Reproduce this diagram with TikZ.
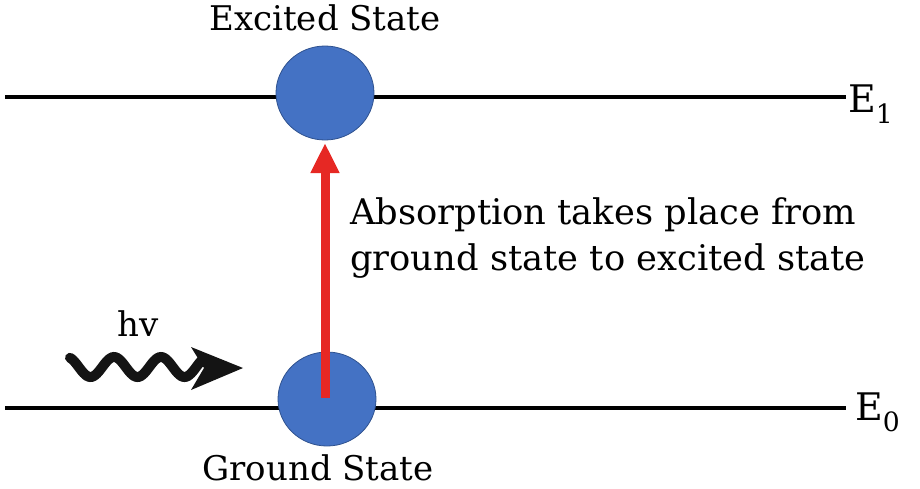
\documentclass[tikz,border=0pt]{standalone}
\usepackage{fontspec}
\setmainfont{DejaVu Serif}
\usetikzlibrary{arrows.meta,shapes.geometric}
\definecolor{stblue}{RGB}{68,114,196}
\definecolor{stedge}{RGB}{47,82,143}
\definecolor{arrred}{RGB}{230,40,36}
\definecolor{wavek}{RGB}{20,20,20}
\begin{document}
\begin{tikzpicture}[x=1pt,y=-1pt,
  level/.style={line width=4pt,black},
  state/.style={ellipse,draw=stedge,line width=0.8pt,fill=stblue,minimum width=98pt,minimum height=94pt,inner sep=0pt},
  lbl/.style={font=\fontsize{34}{40}\selectfont,inner sep=0pt},
  body/.style={font=\fontsize{35.3}{42}\selectfont,inner sep=0pt},
  photon/.style={line width=10pt,wavek,line cap=round},
]
\useasboundingbox (0,0) rectangle (920,488);
\coordinate (l1a) at (5,97);
\coordinate (l1b) at (846,97);
\coordinate (l0a) at (5,408);
\coordinate (l0b) at (846,408);
\draw[level] (l1a) -- (l1b);
\draw[level] (l0a) -- (l0b);
\node[state] (ex) at (325,93) {};
\node[state] (gr) at (327,399) {};
\node[lbl,anchor=base] (ext) at (325,30) {Excited State};
\node[lbl,anchor=base] (grt) at (318,480) {Ground State};
\node[lbl,anchor=base west,font=\fontsize{38}{44}\selectfont] (e1) at (848,112) {E\textsubscript{1}};
\node[lbl,anchor=base west,font=\fontsize{38}{44}\selectfont] (e0) at (855,420) {E\textsubscript{0}};
\coordinate (as) at (325,398);
\coordinate (ae) at (325,143);
\draw[arrred,line width=9pt,-{Triangle[length=30pt,width=27pt]}] (as) -- (ae);
\node[body,anchor=base west,align=left] (abs) at (350,224) {Absorption takes place from};
\node[body,anchor=base west,align=left] (abs2) at (350,270) {ground state to excited state};
\node[lbl,anchor=base] (hv) at (138,336) {hv};
\draw[photon,domain=70:203,samples=80,smooth,variable=\t] plot ({\t},{367-10*cos(7.6596*(\t-67))});
\coordinate (hb1) at (191,347);
\coordinate (htip) at (243,368);
\coordinate (hb2) at (191,390);
\coordinate (hin) at (204,368);
\fill[wavek] (hb1) -- (htip) -- (hb2) -- (hin) -- cycle;
\end{tikzpicture}
\end{document}
